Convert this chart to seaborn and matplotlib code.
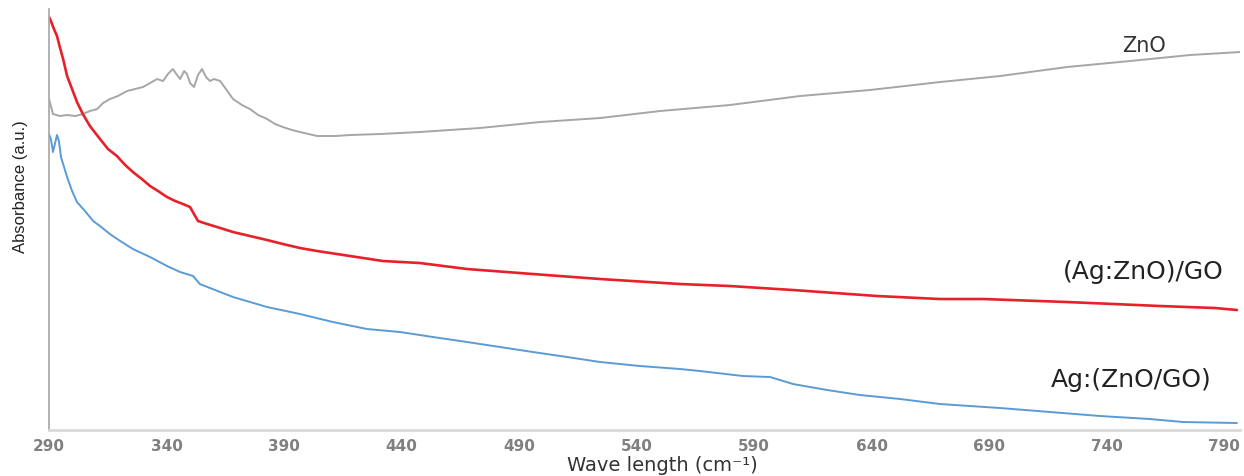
import matplotlib
matplotlib.use("Agg")
import matplotlib.pyplot as plt
import seaborn as sns

# wavelength / absorbance readings (arbitrary units) for the three samples
zno_x = [290.0, 291.7, 294.6, 297.7, 301.1, 304.4, 307.4, 310.5, 313.0, 315.9,
         319.3, 323.2, 326.6, 330.0, 333.0, 336.0, 338.5, 340.6, 342.7, 344.5,
         345.8, 347.5, 348.7, 350.0, 351.7, 353.4, 355.1, 356.8, 358.5, 360.2,
         362.8, 365.3, 368.3, 372.1, 375.5, 379.0, 382.8, 386.2, 389.5, 393.4,
         396.8, 404.1, 411.7, 418.1, 430.9, 447.8, 473.3, 499.0, 524.5, 550.0,
         579.7, 609.6, 639.3, 669.2, 694.7, 723.2, 750.0, 775.5, 796.8]
zno_y = [3.31, 3.16, 3.14, 3.15, 3.14, 3.16, 3.19, 3.21, 3.27, 3.31,
         3.34, 3.39, 3.41, 3.43, 3.47, 3.51, 3.49, 3.56, 3.61, 3.55,
         3.51, 3.59, 3.56, 3.47, 3.43, 3.55, 3.61, 3.53, 3.49, 3.51,
         3.49, 3.41, 3.31, 3.25, 3.21, 3.15, 3.11, 3.06, 3.03, 3.00,
         2.98, 2.94, 2.94, 2.95, 2.96, 2.98, 3.02, 3.08, 3.12, 3.19,
         3.25, 3.34, 3.40, 3.48, 3.54, 3.63, 3.69, 3.75, 3.78]

aggo_x = [290.0, 290.8, 292.1, 293.4, 294.6, 296.0, 297.7, 299.8, 301.9, 304.4,
          307.4, 311.7, 315.1, 318.9, 322.4, 325.7, 329.5, 333.0, 336.4, 340.2,
          343.7, 347.0, 350.0, 351.7, 353.4, 357.3, 361.5, 368.3, 375.5, 382.8,
          389.5, 396.8, 404.1, 418.1, 432.1, 447.8, 467.9, 495.9, 524.5, 558.5,
          579.7, 606.6, 642.4, 669.1, 687.5, 723.2, 762.8, 786.2, 795.5]
aggo_y = [4.13, 4.09, 4.01, 3.94, 3.83, 3.71, 3.54, 3.41, 3.28, 3.16,
          3.04, 2.91, 2.81, 2.74, 2.65, 2.58, 2.51, 2.44, 2.39, 2.33,
          2.29, 2.26, 2.23, 2.16, 2.09, 2.06, 2.03, 1.98, 1.94, 1.90,
          1.86, 1.82, 1.79, 1.74, 1.69, 1.67, 1.61, 1.56, 1.51, 1.46,
          1.44, 1.40, 1.34, 1.31, 1.31, 1.28, 1.24, 1.22, 1.20]

agz_x = [290.0, 290.8, 291.7, 292.5, 293.4, 294.2, 295.1, 296.0, 297.7, 299.8,
         301.9, 305.3, 308.8, 311.7, 315.9, 320.3, 325.7, 333.0, 340.2, 345.8,
         351.3, 354.2, 358.5, 368.3, 382.8, 396.8, 410.8, 425.3, 439.4, 453.4,
         467.9, 481.9, 495.9, 510.5, 524.5, 541.5, 558.5, 567.0, 585.3, 596.8,
         606.6, 621.1, 635.1, 652.2, 669.2, 694.7, 716.0, 737.3, 758.5, 772.6,
         795.5]
agz_y = [2.96, 2.91, 2.78, 2.86, 2.95, 2.89, 2.73, 2.66, 2.53, 2.39,
         2.28, 2.19, 2.09, 2.04, 1.96, 1.89, 1.81, 1.73, 1.64, 1.58,
         1.54, 1.46, 1.42, 1.33, 1.23, 1.16, 1.08, 1.01, 0.98, 0.93,
         0.88, 0.83, 0.78, 0.73, 0.68, 0.64, 0.61, 0.59, 0.54, 0.53,
         0.46, 0.40, 0.35, 0.31, 0.26, 0.22, 0.18, 0.14, 0.11, 0.08,
         0.07]

tick_values = [290, 340, 390, 440, 490, 540, 590, 640, 690, 740, 790]

sns.set_style("white")
plt.rcParams["font.family"] = ["DejaVu Sans"]

fig = plt.figure(figsize=(12.44, 4.77), dpi=100)
ax = fig.add_axes([0.0394, 0.0964, 0.9574, 0.8826])

sns.lineplot(x=zno_x, y=zno_y, ax=ax, color="#A6A6A6", linewidth=1.4)
sns.lineplot(x=aggo_x, y=aggo_y, ax=ax, color="#E8202A", linewidth=1.9)
sns.lineplot(x=agz_x, y=agz_y, ax=ax, color="#5B9BD5", linewidth=1.4)

ax.set_xlim(290, 796.8)
ax.set_ylim(0, 4.21)
ax.set_xticks(tick_values)
ax.set_xticklabels([str(t) for t in tick_values], fontsize=11,
                   fontweight="bold", color="#808080")
ax.set_yticks([])
ax.tick_params(axis="x", length=0, pad=6)

for side in ["top", "right"]:
    ax.spines[side].set_visible(False)
ax.spines["left"].set_color("#A6A6A6")
ax.spines["left"].set_linewidth(1.2)
ax.spines["bottom"].set_color("#D9D9D9")
ax.spines["bottom"].set_linewidth(2)

ax.set_xlabel("Wave length (cm\u207b\u00b9)", fontsize=14, color="#333333", va="center")
ax.xaxis.set_label_coords(0.515, -0.083)
ax.set_ylabel("Absorbance (a.u.)", fontsize=12,
              family=["Liberation Sans Narrow", "Liberation Sans", "DejaVu Sans"],
              color="#222222")
ax.yaxis.set_label_coords(-0.018, 0.58)

ax.text(756, 3.85, "ZnO", fontsize=15, color="#333333", ha="center", va="center")
ax.text(755.5, 1.59, "(Ag:ZnO)/GO", fontsize=18, color="#222222",
        ha="center", va="center", clip_on=False)
ax.text(750.4, 0.51, "Ag:(ZnO/GO)", fontsize=18, color="#222222",
        ha="center", va="center", clip_on=False)

fig.savefig("out.png", dpi=100)
